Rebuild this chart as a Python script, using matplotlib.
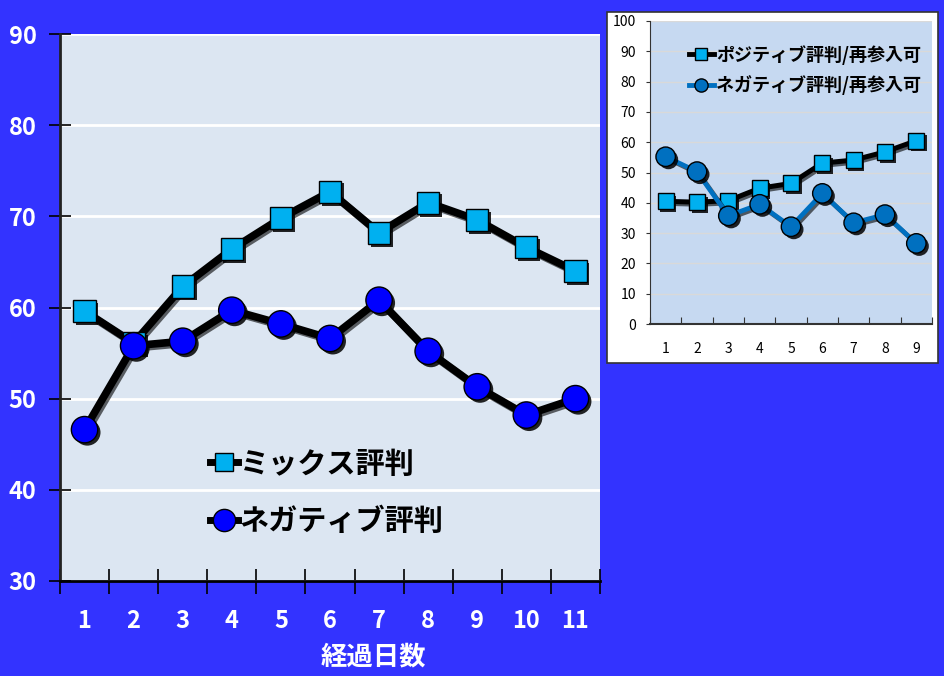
import matplotlib
matplotlib.use("Agg")
import matplotlib.pyplot as plt
import matplotlib.patheffects as pe
from matplotlib.lines import Line2D
from matplotlib.patches import Rectangle

plt.rcParams['font.family'] = ['Noto Sans CJK JP', 'DejaVu Sans']

# main chart: days 1-11
days = [1, 2, 3, 4, 5, 6, 7, 8, 9, 10, 11]
mix_score = [59.6, 56.1, 62.3, 66.4, 69.8, 72.7, 68.2, 71.5, 69.6, 66.6, 64.0]
neg_score = [46.6, 55.8, 56.3, 59.7, 58.2, 56.6, 60.8, 55.2, 51.3, 48.2, 50.0]
main_labels = ['ミックス評判', 'ネガティブ評判']
x_title = '経過日数'

# small chart: days 1-9
days_small = [1, 2, 3, 4, 5, 6, 7, 8, 9]
pos_reentry = [40.5, 40.2, 40.7, 44.8, 46.4, 53.1, 54.1, 56.8, 60.5]
neg_reentry = [55.2, 50.3, 35.7, 39.5, 32.1, 43.1, 33.4, 36.1, 26.6]
small_labels = ['ポジティブ評判/再参入可', 'ネガティブ評判/再参入可']

BG = '#3333FF'
LIGHT = '#00B0F0'
BLUE = '#0000FF'
MID = '#0070C0'

fig = plt.figure(figsize=(9.44, 6.76), dpi=100, facecolor=BG)


def shadowed(ax, x, y, lc, lw, marker, ms, mfc, z):
    ax.plot(x, y, color=lc, lw=lw, zorder=z,
            path_effects=[pe.SimpleLineShadow(offset=(1.5, -1.5), shadow_color='black', alpha=0.6), pe.Normal()])
    ax.plot(x, y, ls='none', marker=marker, ms=ms, mfc=mfc, mec='black', mew=1.0, zorder=z + 0.5,
            path_effects=[pe.SimplePatchShadow(offset=(2, -2), shadow_rgbFace='black', alpha=0.85), pe.Normal()])


# ---- main chart ----
ax = fig.add_axes([60 / 944, 95 / 676, 540 / 944, 547 / 676])
ax.set_facecolor('#DCE6F2')
ax.set_xlim(0.5, 11.5)
ax.set_ylim(30, 90)
ax.set_yticks(range(30, 91, 10))
ax.set_xticks([x + 0.5 for x in range(0, 12)], minor=False)
ax.set_xticklabels([])
ax.set_xticks(days, minor=True)
ax.set_xticklabels([str(d) for d in days], minor=True)
ax.tick_params(axis='x', which='major', direction='inout', length=18, width=1.2, color='black')
ax.tick_params(axis='x', which='minor', length=0, pad=20, labelsize=17, labelcolor='white')
ax.tick_params(axis='y', direction='inout', length=16, width=1.2, color='black',
               labelsize=17, labelcolor='white', pad=9)
for lab in ax.get_xticklabels(minor=True) + ax.get_yticklabels():
    lab.set_fontweight('bold')
for s in ['top', 'right']:
    ax.spines[s].set_visible(False)
ax.spines['left'].set_color('#222222')
ax.spines['bottom'].set_color('black')
ax.spines['left'].set_linewidth(2)
ax.spines['bottom'].set_linewidth(2)
ax.grid(axis='y', color='white', lw=2)
ax.set_axisbelow(True)

shadowed(ax, days, mix_score, 'black', 5.5, 's', 16, LIGHT, 3)
shadowed(ax, days, neg_score, 'black', 5.5, 'o', 19, BLUE, 5)

ax.set_xlabel(x_title, color='white', fontsize=19, fontweight='bold')
ax.xaxis.set_label_coords(0.58, -0.115)

h_main = [Line2D([], [], color='black', lw=5, marker='s', ms=13, mfc=LIGHT, mec='black'),
          Line2D([], [], color='black', lw=5, marker='o', ms=16, mfc=BLUE, mec='black')]
ax.legend(h_main, main_labels, loc='upper left', bbox_to_anchor=(0.23, 0.29), frameon=False,
          handlelength=0.95, handletextpad=0.05, labelspacing=0.95,
          prop={'size': 21, 'weight': 'bold'})

# ---- small chart ----
fig.patches.append(Rectangle((607 / 944, (676 - 363) / 676), 331 / 944, 351 / 676,
                             transform=fig.transFigure, facecolor='white',
                             edgecolor='#333333', lw=1.2, zorder=-1))
ax2 = fig.add_axes([650 / 944, (676 - 324) / 676, 282 / 944, 303 / 676])
ax2.set_facecolor('#C6D9F1')
ax2.set_xlim(0.5, 9.5)
ax2.set_ylim(0, 100)
ax2.set_yticks(range(0, 101, 10))
ax2.set_xticks([x + 0.5 for x in range(0, 10)])
ax2.set_xticklabels([])
ax2.set_xticks(days_small, minor=True)
ax2.set_xticklabels([str(d) for d in days_small], minor=True)
ax2.tick_params(axis='x', which='major', direction='in', length=5, color='#333333')
ax2.tick_params(axis='x', which='minor', length=0, pad=13, labelsize=10)
ax2.tick_params(axis='y', direction='out', length=3, labelsize=10, pad=7, color='#333333')
for s in ['top', 'right']:
    ax2.spines[s].set_visible(False)
ax2.spines['left'].set_color('#333333')
ax2.spines['bottom'].set_color('#333333')
ax2.spines['bottom'].set_linewidth(1.5)
ax2.grid(axis='y', color='#D9D9D9', lw=1)
ax2.set_axisbelow(True)

shadowed(ax2, days_small, pos_reentry, 'black', 3.6, 's', 11.5, LIGHT, 3)
shadowed(ax2, days_small, neg_reentry, MID, 3.4, 'o', 14, MID, 5)

h_small = [Line2D([], [], color='black', lw=3.5, marker='s', ms=8, mfc=LIGHT, mec='black'),
           Line2D([], [], color=MID, lw=3.5, marker='o', ms=9.5, mfc=MID, mec='black')]
ax2.legend(h_small, small_labels, loc='upper left', bbox_to_anchor=(0.08, 0.975), frameon=False,
           handlelength=1.4, handletextpad=0.12, labelspacing=0.6,
           prop={'size': 13, 'weight': 'bold'})

fig.savefig('out.png', dpi=100, facecolor=BG)
